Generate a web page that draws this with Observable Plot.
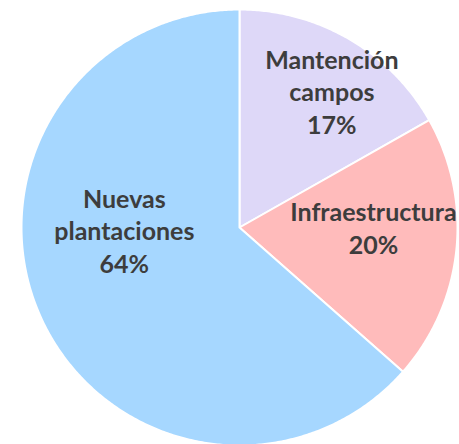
<!DOCTYPE html>
<html>
<head>
<meta charset="utf-8">
<script src="https://cdn.jsdelivr.net/npm/d3@7"></script>
<script src="https://cdn.jsdelivr.net/npm/@observablehq/plot@0.6"></script>
<style>
  html, body { margin: 0; padding: 0; background: #fff; }
</style>
</head>
<body>
<div id="chart"></div>
<script>
const categories = ["Mantención\ncampos", "Infraestructura", "Nuevas\nplantaciones"];
const values = [16.8, 19.7, 63.5];
const percentLabels = ["17%", "20%", "64%"];
const colors = ["#DED8F8", "#FFBBBB", "#A6D7FF"];

const total = d3.sum(values);
// slice angles (clockwise from 12 o'clock)
let acc = 0;
const slices = categories.map((c, i) => {
  const a0 = acc / total * 2 * Math.PI;
  acc += values[i];
  const a1 = acc / total * 2 * Math.PI;
  return {category: c, a0, a1, label: c + "\n" + percentLabels[i]};
});

// polygon points for each slice in unit-circle coordinates
const pts = [];
for (const s of slices) {
  pts.push({category: s.category, x: 0, y: 0});
  const n = Math.max(2, Math.ceil((s.a1 - s.a0) / (Math.PI / 360)));
  for (let k = 0; k <= n; k++) {
    const a = s.a0 + (s.a1 - s.a0) * k / n;
    pts.push({category: s.category, x: Math.sin(a), y: Math.cos(a)});
  }
  pts.push({category: s.category, x: 0, y: 0});
}

const labelR = 0.65;
const labels = slices.map(s => {
  const m = (s.a0 + s.a1) / 2;
  return {category: s.category, label: s.label, x: labelR * Math.sin(m), y: labelR * Math.cos(m)};
});

const offsets = [[21, -14], [-7, -15], [14, -56]];

const textMarks = labels.map((l, i) => Plot.text([l], {
  x: "x", y: "y", text: "label",
  dx: offsets[i][0], dy: offsets[i][1],
  fill: "#3d3d3d",
  fontSize: 25,
  fontWeight: "bold",
  lineHeight: 1.3,
  textAnchor: "middle"
}));

const chart = Plot.plot({
  width: 459,
  height: 444,
  margin: 0,
  style: {fontFamily: "Lato, 'Open Sans', sans-serif", background: "#fff"},
  x: {domain: [-1, 1], range: [21, 457], axis: null},
  y: {domain: [-1, 1], range: [445, 9], axis: null},
  color: {domain: categories, range: colors},
  marks: [
    Plot.line(pts, {x: "x", y: "y", z: "category", fill: "category", stroke: "white", strokeWidth: 2, curve: "linear"}),
    ...textMarks
  ]
});
document.getElementById("chart").appendChild(chart);
</script>
</body>
</html>
